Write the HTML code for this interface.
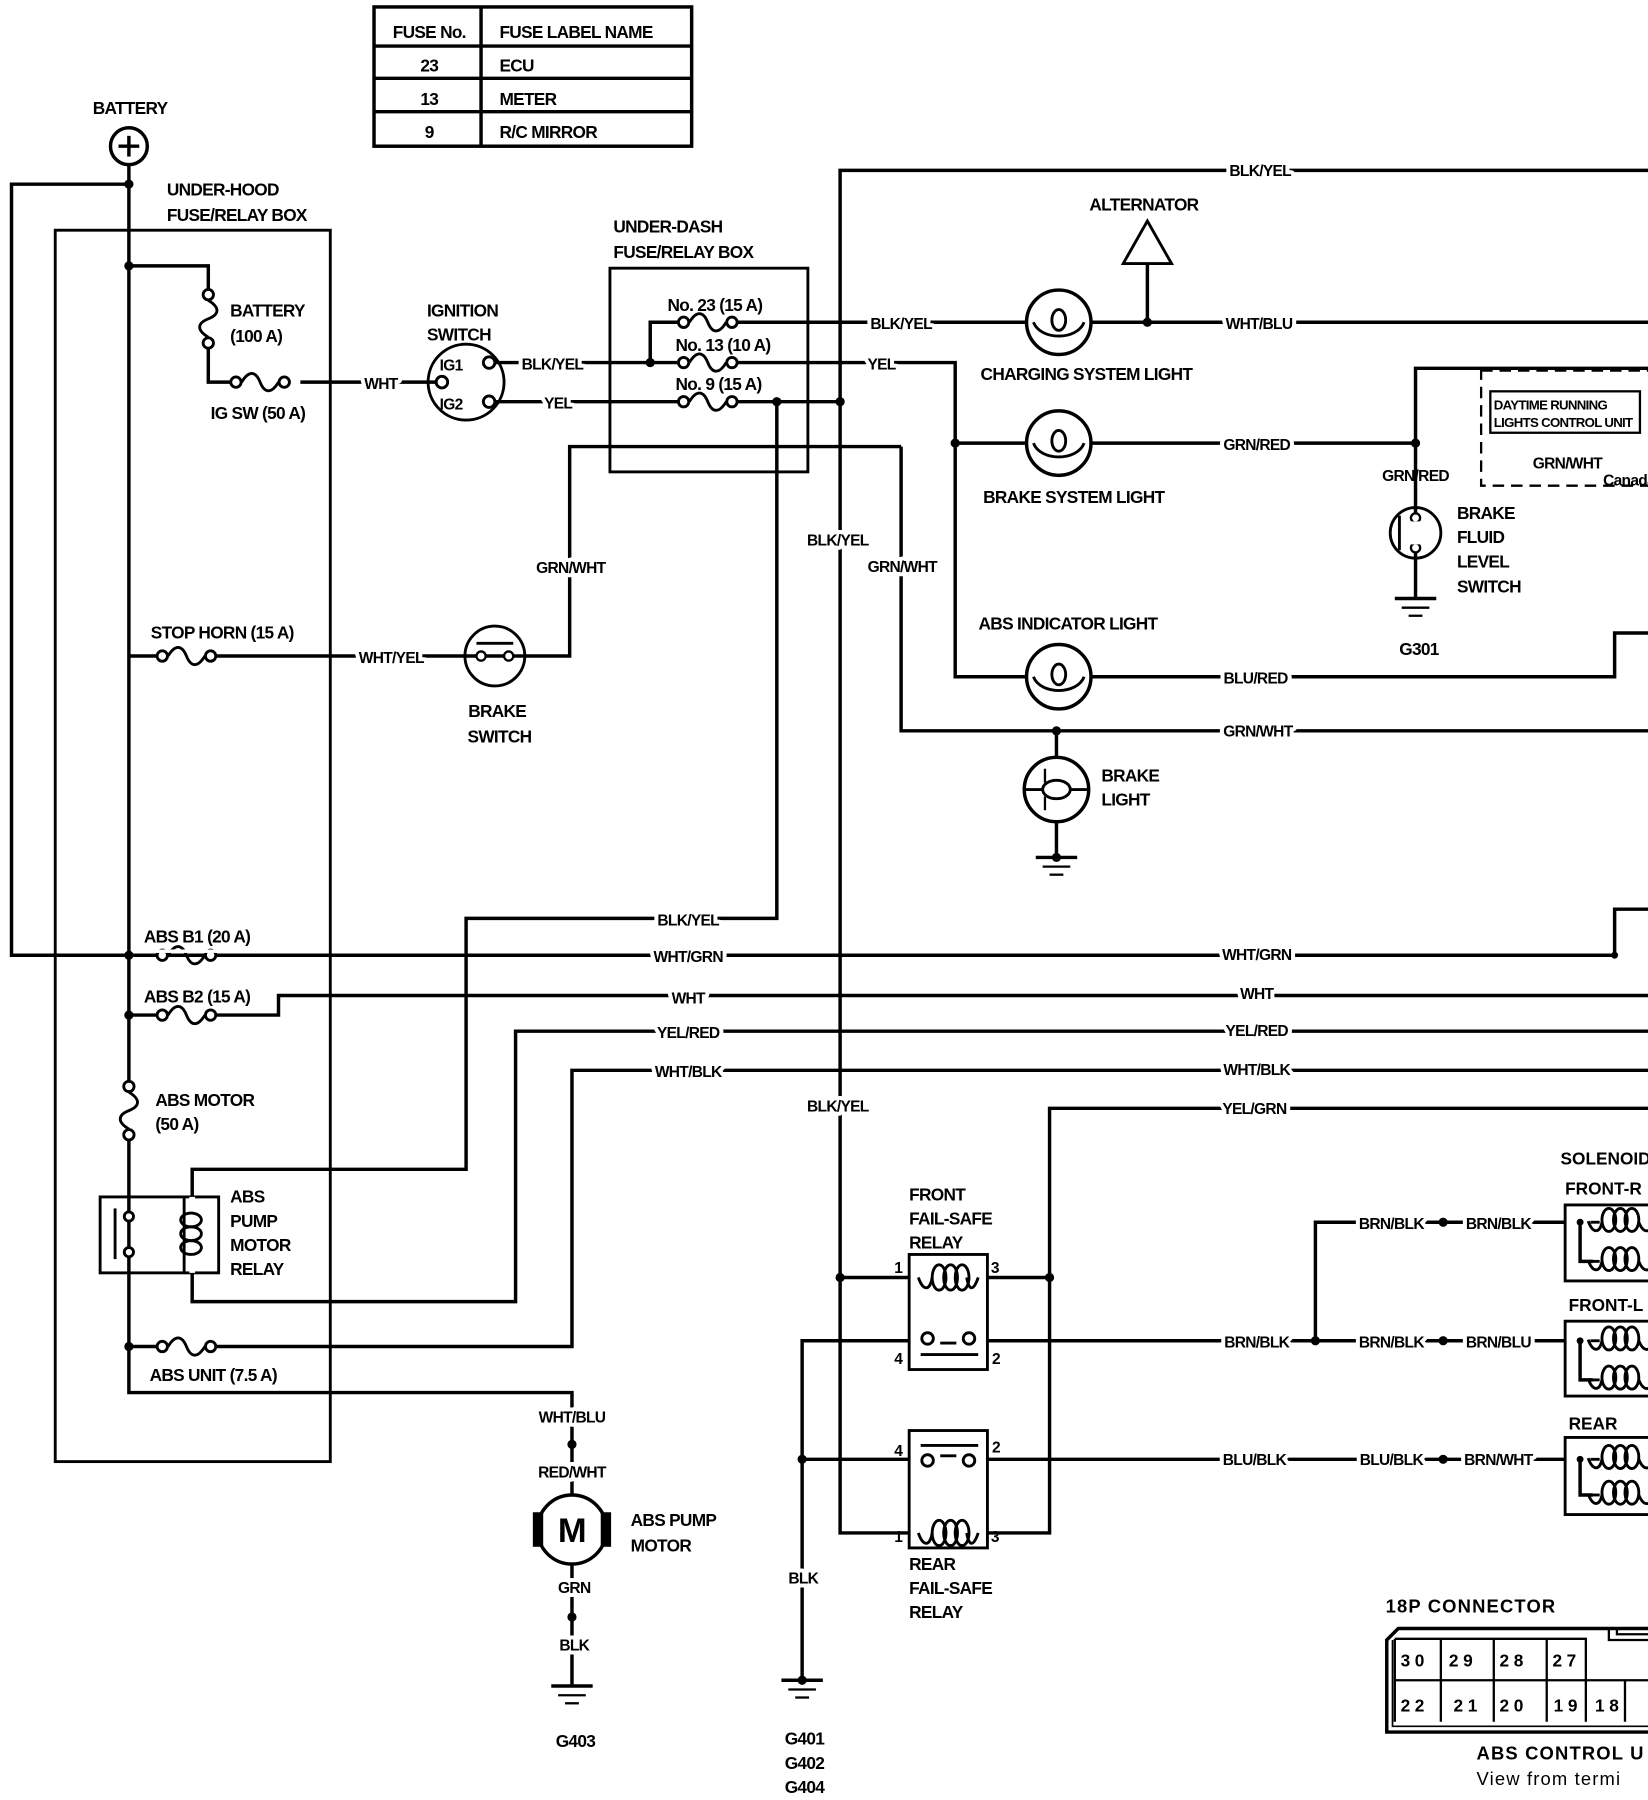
<!DOCTYPE html>
<html><head><meta charset="utf-8"><style>
html,body{margin:0;padding:0;background:#fff;}
svg{display:block;}
text{font-family:"Liberation Sans Narrow","Liberation Sans",sans-serif;font-weight:bold;font-size:15px;letter-spacing:-0.6px;fill:#000;}
.l{paint-order:stroke;stroke:#fff;stroke-width:7px;stroke-linejoin:round;}
.s{font-size:13.5px;}
.w{font-family:"Liberation Sans",sans-serif;letter-spacing:1px;}
</style></head><body>
<svg width="1648" height="1800" viewBox="0 0 1432 1564" xmlns="http://www.w3.org/2000/svg">
<defs>
<g id="fh"><circle cx="-21" cy="0" r="4.5" fill="#fff" stroke="#000" stroke-width="2.5"/><circle cx="21" cy="0" r="4.5" fill="#fff" stroke="#000" stroke-width="2.5"/><path d="M-16,0 C-10,-10 -4,-10 0,0 S10,10 16,0" fill="none" stroke="#000" stroke-width="2.5"/></g>
<g id="lamp"><circle r="28" fill="#fff" stroke="#000" stroke-width="3"/><path d="M-22,0 C-16,16 16,16 22,0" fill="none" stroke="#000" stroke-width="2.5"/><ellipse cx="0" cy="-2" rx="6" ry="9" fill="none" stroke="#000" stroke-width="2.5"/></g>
<g id="gnd"><line x1="-18" y1="0" x2="18" y2="0" stroke="#000" stroke-width="3"/><line x1="-12" y1="8" x2="12" y2="8" stroke="#000" stroke-width="2"/><line x1="-6" y1="15" x2="6" y2="15" stroke="#000" stroke-width="2"/></g>
<g id="coil"><path d="M-26,0 C-22,12 -16,12 -14,0" fill="none" stroke="#000" stroke-width="2.5"/><ellipse cx="-8" cy="0" rx="6" ry="11" fill="none" stroke="#000" stroke-width="2.5"/><ellipse cx="2" cy="0" rx="6" ry="11" fill="none" stroke="#000" stroke-width="2.5"/><ellipse cx="12" cy="0" rx="6" ry="11" fill="none" stroke="#000" stroke-width="2.5"/><path d="M16,0 C18,12 22,12 26,0" fill="none" stroke="#000" stroke-width="2.5"/></g>
<g id="sol"><path d="M12,0 h8" stroke="#000" stroke-width="2.5"/><path d="M10,-1 C14,10 20,10 22,0" fill="none" stroke="#000" stroke-width="2.5"/><ellipse cx="28" cy="-2" rx="6" ry="10" fill="none" stroke="#000" stroke-width="2.5"/><ellipse cx="38" cy="-2" rx="6" ry="10" fill="none" stroke="#000" stroke-width="2.5"/><ellipse cx="48" cy="-2" rx="6" ry="10" fill="none" stroke="#000" stroke-width="2.5"/><path d="M54,0 C58,10 64,10 68,0" fill="none" stroke="#000" stroke-width="2.5"/></g>
</defs>

<g fill="none" stroke="#000" stroke-width="3">
<rect x="325" y="6" width="276" height="121"/>
<line x1="418" y1="6" x2="418" y2="127"/>
<line x1="325" y1="40" x2="601" y2="40"/><line x1="325" y1="68" x2="601" y2="68"/><line x1="325" y1="97" x2="601" y2="97"/>
</g>
<text x="373" y="33" text-anchor="middle">FUSE No.</text><text x="434" y="33">FUSE LABEL NAME</text>
<text x="373" y="62" text-anchor="middle">23</text><text x="434" y="62">ECU</text>
<text x="373" y="91" text-anchor="middle">13</text><text x="434" y="91">METER</text>
<text x="373" y="120" text-anchor="middle">9</text><text x="434" y="120">R/C MIRROR</text>

<g fill="none" stroke="#000" stroke-width="3">
<circle cx="112" cy="127" r="16"/>
<line x1="112" y1="118" x2="112" y2="136"/><line x1="103" y1="127" x2="121" y2="127"/>
<polyline points="112,143 112,1210 497,1210 497,1305"/>
<polyline points="112,160 10,160 10,830 1403,830 1403,790 1432,790"/>
<rect x="48" y="200" width="239" height="1070" stroke-width="2.5"/>
<rect x="530" y="233" width="172" height="177" stroke-width="2.5"/>
<polyline points="112,231 181,231 181,255"/>
<polyline points="181,300 181,332 205,332"/>
<line x1="261" y1="332" x2="383" y2="332"/>
<circle cx="405" cy="332" r="33" stroke-width="2.5"/>
<line x1="430" y1="315" x2="565" y2="315"/>
<line x1="430" y1="349" x2="590" y2="349"/>
<polyline points="565,315 565,280 590,280"/>
<line x1="565" y1="315" x2="590" y2="315"/>
<line x1="640" y1="280" x2="892" y2="280"/>
<polyline points="640,315 830,315 830,588 892,588"/>
<line x1="830" y1="385" x2="892" y2="385"/>
<line x1="640" y1="349" x2="730" y2="349"/>
<polyline points="675,349 675,798 405,798 405,1016 167,1016 167,1040"/>
<polyline points="1432,148 730,148 730,1332 790,1332"/>
<line x1="730" y1="1110" x2="790" y2="1110"/>
<polyline points="783,388 783,635 1432,635"/>
<polyline points="783,388 495,388 495,570 456,570"/>
<polyline points="112,570 140,570"/><line x1="184" y1="570" x2="404" y2="570"/>
<line x1="948" y1="280" x2="1432" y2="280"/>
<polyline points="997,229 997,280"/>
<polygon points="997,192 976,229 1018,229" stroke-width="2.5"/>
<polyline points="948,385 1230,385 1230,441"/>
<polyline points="1230,385 1230,320 1432,320"/>
<line x1="1230" y1="485" x2="1230" y2="520"/>
<polyline points="948,588 1403,588 1403,550 1432,550"/>
<line x1="918" y1="635" x2="918" y2="658"/><line x1="918" y1="714" x2="918" y2="745"/>
<polyline points="112,882 140,882"/><polyline points="184,882 242,882 242,865 1432,865"/>
<polyline points="167,1106 167,1131 448,1131 448,896 1432,896"/>
<polyline points="112,1170 140,1170"/><polyline points="184,1170 497,1170 497,930 1432,930"/>
<polyline points="1432,963 912,963 912,1332 858,1332"/>
<line x1="858" y1="1110" x2="912" y2="1110"/>
<rect x="87" y="1040" width="103" height="66" stroke-width="2.5"/>
<rect x="790" y="1090" width="68" height="100" stroke-width="2.5"/>
<rect x="790" y="1243" width="68" height="102" stroke-width="2.5"/>
<polyline points="790,1165 697,1165 697,1460"/>
<line x1="697" y1="1268" x2="790" y2="1268"/>
<line x1="858" y1="1165" x2="1360" y2="1165"/>
<polyline points="1143,1165 1143,1062 1360,1062"/>
<line x1="858" y1="1268" x2="1360" y2="1268"/>
<line x1="497" y1="1355" x2="497" y2="1465"/>
<polyline points="1432,1047 1360,1047 1360,1113 1432,1113" stroke-width="2.5"/>
<polyline points="1432,1148 1360,1148 1360,1213 1432,1213" stroke-width="2.5"/>
<polyline points="1432,1249 1360,1249 1360,1316 1432,1316" stroke-width="2.5"/>
<polyline points="1373,1062 1373,1096 1384,1096"/>
<polyline points="1373,1165 1373,1199 1384,1199"/>
<polyline points="1373,1268 1373,1299 1384,1299"/>
<rect x="1287" y="322" width="160" height="100" stroke-width="2" stroke-dasharray="10,6"/>
<rect x="1295" y="340" width="130" height="36" stroke-width="2"/>
<path d="M1432,1415 H1215 L1205,1425 V1505 H1432" stroke-width="3"/>
<path d="M1210,1425 V1500 H1432" stroke-width="1.5"/>
<line x1="1212" y1="1424" x2="1212" y2="1496" stroke-width="2"/>
<path d="M1212,1424 H1378 V1496 M1212,1460 H1432 M1252,1424 V1496 M1298,1424 V1496 M1344,1424 V1496 M1412,1460 V1496" stroke-width="2"/>
<path d="M1398,1415 V1425 H1432 M1405,1415 V1420 H1432" stroke-width="2"/>
</g>

<rect x="175" y="255" width="12" height="45" fill="#fff"/>
<use href="#fh" transform="translate(181,277) rotate(90)"/>
<rect x="106" y="940" width="12" height="50" fill="#fff"/>
<use href="#fh" transform="translate(112,965) rotate(90)"/>
<use href="#fh" transform="translate(226,332)"/>
<use href="#fh" transform="translate(615,280)"/>
<use href="#fh" transform="translate(615,315)"/>
<use href="#fh" transform="translate(615,349)"/>
<use href="#fh" transform="translate(162,570)"/>
<use href="#fh" transform="translate(162,830)"/>
<use href="#fh" transform="translate(162,882)"/>
<use href="#fh" transform="translate(162,1170)"/>
<rect x="135" y="825" width="55" height="3" fill="#fff"/>

<g fill="#fff" stroke="#000" stroke-width="2.5">
<circle cx="425" cy="315" r="5"/><circle cx="425" cy="349" r="5"/><circle cx="384" cy="332" r="5"/>
</g>
<text x="382" y="322" class="s">IG1</text><text x="382" y="356" class="s">IG2</text>

<circle cx="430" cy="570" r="26" fill="#fff" stroke="#000" stroke-width="2.5"/>
<line x1="404" y1="570" x2="456" y2="570" stroke="#000" stroke-width="3"/>
<circle cx="418" cy="570" r="4" fill="#fff" stroke="#000" stroke-width="2"/><circle cx="442" cy="570" r="4" fill="#fff" stroke="#000" stroke-width="2"/>
<line x1="414" y1="559" x2="446" y2="559" stroke="#000" stroke-width="2.5"/>

<use href="#lamp" transform="translate(920,280)"/>
<use href="#lamp" transform="translate(920,385)"/>
<use href="#lamp" transform="translate(920,588)"/>
<g transform="translate(918,686)"><circle r="28" fill="#fff" stroke="#000" stroke-width="3"/><path d="M-28,0 H-12 M12,0 H28" stroke="#000" stroke-width="2.5"/><ellipse cx="0" cy="0" rx="12" ry="8" fill="none" stroke="#000" stroke-width="2.5"/><path d="M-10,-6 V-18 M-10,6 V18" stroke="#000" stroke-width="2"/></g>
<use href="#gnd" transform="translate(918,745)"/>
<circle cx="918" cy="745" r="4"/>
<circle cx="1230" cy="463" r="22" fill="#fff" stroke="#000" stroke-width="2.5"/>
<line x1="1230" y1="441" x2="1230" y2="485" stroke="#000" stroke-width="3"/>
<circle cx="1230" cy="450" r="4" fill="#fff" stroke="#000" stroke-width="2"/><circle cx="1230" cy="476" r="4" fill="#fff" stroke="#000" stroke-width="2"/>
<line x1="1216" y1="448" x2="1216" y2="478" stroke="#000" stroke-width="2.5"/>
<rect x="1226" y="453" width="8" height="20" fill="#fff"/>
<use href="#gnd" transform="translate(1230,520)"/>

<g fill="none" stroke="#000" stroke-width="2.5">
<line x1="112" y1="1040" x2="112" y2="1055"/><line x1="112" y1="1090" x2="112" y2="1106"/>
<circle cx="112" cy="1057" r="4" fill="#fff"/><circle cx="112" cy="1088" r="4" fill="#fff"/>
<line x1="100" y1="1050" x2="100" y2="1094"/>
<line x1="167" y1="1040" x2="167" y2="1106" stroke="#fff" stroke-width="5"/>
<path d="M160,1040 V1106"/>
<ellipse cx="166" cy="1060" rx="9" ry="6"/><ellipse cx="166" cy="1072" rx="9" ry="6"/><ellipse cx="166" cy="1084" rx="9" ry="6"/>
</g>

<use href="#coil" transform="translate(824,1110)"/>
<line x1="800" y1="1165" x2="856" y2="1165" stroke="#fff" stroke-width="4"/>
<g fill="#fff" stroke="#000" stroke-width="2.5"><circle cx="806" cy="1163" r="5"/><circle cx="842" cy="1163" r="5"/><circle cx="806" cy="1269" r="5"/><circle cx="842" cy="1269" r="5"/></g>
<path d="M817,1167 H831 M800,1177 H850 M800,1256 H850 M817,1265 H831" stroke="#000" stroke-width="2.5"/>
<use href="#coil" transform="translate(824,1332)"/>
<text x="777" y="1106" class="s">1</text><text x="861" y="1106" class="s">3</text>
<text x="777" y="1185" class="s">4</text><text x="862" y="1185" class="s">2</text>
<text x="777" y="1265" class="s">4</text><text x="862" y="1262" class="s">2</text>
<text x="777" y="1340" class="s">1</text><text x="861" y="1340" class="s">3</text>

<use href="#sol" transform="translate(1370,1062)"/><use href="#sol" transform="translate(1370,1096)"/>
<use href="#sol" transform="translate(1370,1165)"/><use href="#sol" transform="translate(1370,1199)"/>
<use href="#sol" transform="translate(1370,1268)"/><use href="#sol" transform="translate(1370,1299)"/>

<circle cx="497" cy="1329" r="30" fill="#fff" stroke="#000" stroke-width="3"/>
<rect x="463" y="1314" width="9" height="30"/><rect x="522" y="1314" width="9" height="30"/>
<text x="497" y="1340" text-anchor="middle" style="font-size:30px;font-family:'Liberation Sans',sans-serif">M</text>
<use href="#gnd" transform="translate(497,1465)"/>
<use href="#gnd" transform="translate(697,1460)"/>
<circle cx="697" cy="1460" r="4"/>

<g>
<circle cx="112" cy="160" r="4"/><circle cx="112" cy="231" r="4"/><circle cx="565" cy="315" r="4"/>
<circle cx="675" cy="349" r="4"/><circle cx="730" cy="349" r="4"/><circle cx="830" cy="385" r="4"/>
<circle cx="997" cy="280" r="4"/><circle cx="1230" cy="385" r="4"/><circle cx="918" cy="635" r="4"/>
<circle cx="112" cy="830" r="4"/><circle cx="112" cy="882" r="4"/><circle cx="112" cy="1170" r="4"/>
<circle cx="730" cy="1110" r="4"/><circle cx="912" cy="1110" r="4"/><circle cx="697" cy="1268" r="4"/>
<circle cx="1143" cy="1165" r="4"/><circle cx="1254" cy="1062" r="4"/><circle cx="1254" cy="1165" r="4"/><circle cx="1254" cy="1268" r="4"/>
<circle cx="1403" cy="830" r="3"/><circle cx="497" cy="1255" r="4"/><circle cx="497" cy="1405" r="4"/>
<circle cx="1373" cy="1062" r="3"/><circle cx="1373" cy="1165" r="3"/><circle cx="1373" cy="1268" r="3"/>
</g>

<g>
<text x="331" y="338" text-anchor="middle" class="l s">WHT</text>
<text x="480" y="321" text-anchor="middle" class="l s">BLK/YEL</text>
<text x="485" y="355" text-anchor="middle" class="l s">YEL</text>
<text x="783" y="286" text-anchor="middle" class="l s">BLK/YEL</text>
<text x="766" y="321" text-anchor="middle" class="l s">YEL</text>
<text x="1095" y="153" text-anchor="middle" class="l s">BLK/YEL</text>
<text x="1094" y="286" text-anchor="middle" class="l s">WHT/BLU</text>
<text x="1092" y="391" text-anchor="middle" class="l s">GRN/RED</text>
<text x="1091" y="594" text-anchor="middle" class="l s">BLU/RED</text>
<text x="1093" y="640" text-anchor="middle" class="l s">GRN/WHT</text>
<text x="496" y="498" text-anchor="middle" class="l s">GRN/WHT</text>
<text x="784" y="497" text-anchor="middle" class="l s">GRN/WHT</text>
<text x="728" y="474" text-anchor="middle" class="l s">BLK/YEL</text>
<text x="728" y="966" text-anchor="middle" class="l s">BLK/YEL</text>
<text x="340" y="576" text-anchor="middle" class="l s">WHT/YEL</text>
<text x="598" y="804" text-anchor="middle" class="l s">BLK/YEL</text>
<text x="598" y="836" text-anchor="middle" class="l s">WHT/GRN</text>
<text x="1092" y="834" text-anchor="middle" class="l s">WHT/GRN</text>
<text x="598" y="872" text-anchor="middle" class="l s">WHT</text>
<text x="1092" y="868" text-anchor="middle" class="l s">WHT</text>
<text x="598" y="902" text-anchor="middle" class="l s">YEL/RED</text>
<text x="1092" y="900" text-anchor="middle" class="l s">YEL/RED</text>
<text x="598" y="936" text-anchor="middle" class="l s">WHT/BLK</text>
<text x="1092" y="934" text-anchor="middle" class="l s">WHT/BLK</text>
<text x="1090" y="968" text-anchor="middle" class="l s">YEL/GRN</text>
<text x="1092" y="1171" text-anchor="middle" class="l s">BRN/BLK</text>
<text x="1090" y="1273" text-anchor="middle" class="l s">BLU/BLK</text>
<text x="1209" y="1068" text-anchor="middle" class="l s">BRN/BLK</text>
<text x="1302" y="1068" text-anchor="middle" class="l s">BRN/BLK</text>
<text x="1209" y="1171" text-anchor="middle" class="l s">BRN/BLK</text>
<text x="1302" y="1171" text-anchor="middle" class="l s">BRN/BLU</text>
<text x="1209" y="1273" text-anchor="middle" class="l s">BLU/BLK</text>
<text x="1302" y="1273" text-anchor="middle" class="l s">BRN/WHT</text>
<text x="497" y="1236" text-anchor="middle" class="l s">WHT/BLU</text>
<text x="497" y="1284" text-anchor="middle" class="l s">RED/WHT</text>
<text x="499" y="1384" text-anchor="middle" class="l s">GRN</text>
<text x="499" y="1434" text-anchor="middle" class="l s">BLK</text>
<text x="698" y="1376" text-anchor="middle" class="l s">BLK</text>
</g>

<text x="113" y="99" text-anchor="middle">BATTERY</text>
<text x="145" y="170">UNDER-HOOD</text><text x="145" y="192">FUSE/RELAY BOX</text>
<text x="200" y="275">BATTERY</text><text x="200" y="297">(100 A)</text>
<text x="183" y="364">IG SW (50 A)</text>
<text x="371" y="275">IGNITION</text><text x="371" y="296">SWITCH</text>
<text x="533" y="202">UNDER-DASH</text><text x="533" y="224">FUSE/RELAY BOX</text>
<text x="580" y="270">No. 23 (15 A)</text><text x="587" y="305">No. 13 (10 A)</text><text x="587" y="339">No. 9 (15 A)</text>
<text x="131" y="555">STOP HORN (15 A)</text>
<text x="432" y="623" text-anchor="middle">BRAKE</text><text x="434" y="645" text-anchor="middle">SWITCH</text>
<text x="994" y="183" text-anchor="middle">ALTERNATOR</text>
<text x="944" y="330" text-anchor="middle">CHARGING SYSTEM LIGHT</text>
<text x="933" y="437" text-anchor="middle">BRAKE SYSTEM LIGHT</text>
<text x="928" y="547" text-anchor="middle">ABS INDICATOR LIGHT</text>
<text x="957" y="679">BRAKE</text><text x="957" y="700">LIGHT</text>
<text x="1298" y="356" style="font-size:11.5px">DAYTIME RUNNING</text><text x="1298" y="371" style="font-size:11.5px">LIGHTS CONTROL UNIT</text>
<text x="1362" y="407" text-anchor="middle" class="s">GRN/WHT</text><text x="1393" y="422" class="s">Canada</text>
<text x="1230" y="418" text-anchor="middle" class="s">GRN/RED</text>
<text x="1266" y="451">BRAKE</text><text x="1266" y="472">FLUID</text><text x="1266" y="493">LEVEL</text><text x="1266" y="515">SWITCH</text>
<text x="1233" y="569" text-anchor="middle">G301</text>
<text x="125" y="819">ABS B1 (20 A)</text>
<text x="125" y="871">ABS B2 (15 A)</text>
<text x="135" y="961">ABS MOTOR</text><text x="135" y="982">(50 A)</text>
<text x="200" y="1045">ABS</text><text x="200" y="1066">PUMP</text><text x="200" y="1087">MOTOR</text><text x="200" y="1108">RELAY</text>
<text x="130" y="1200">ABS UNIT (7.5 A)</text>
<text x="548" y="1326">ABS PUMP</text><text x="548" y="1348">MOTOR</text>
<text x="500" y="1518" text-anchor="middle">G403</text>
<text x="699" y="1516" text-anchor="middle">G401</text><text x="699" y="1537" text-anchor="middle">G402</text><text x="699" y="1558" text-anchor="middle">G404</text>
<text x="790" y="1043">FRONT</text><text x="790" y="1064">FAIL-SAFE</text><text x="790" y="1085">RELAY</text>
<text x="790" y="1364">REAR</text><text x="790" y="1385">FAIL-SAFE</text><text x="790" y="1406">RELAY</text>
<text x="1356" y="1012" class="w" style="font-size:15px;letter-spacing:0">SOLENOID</text>
<text x="1360" y="1038" class="w" style="font-size:15px;letter-spacing:0">FRONT-R</text>
<text x="1363" y="1139" class="w" style="font-size:15px;letter-spacing:0">FRONT-L</text>
<text x="1363" y="1242" class="w" style="font-size:15px;letter-spacing:0">REAR</text>
<text x="1204" y="1401" class="w" style="font-size:16px">18P CONNECTOR</text>
<g style="font-size:15px">
<text x="1217" y="1448" class="w" style="letter-spacing:4px">30</text><text x="1259" y="1448" class="w" style="letter-spacing:4px">29</text><text x="1303" y="1448" class="w" style="letter-spacing:4px">28</text><text x="1349" y="1448" class="w" style="letter-spacing:4px">27</text>
<text x="1217" y="1487" class="w" style="letter-spacing:4px">22</text><text x="1263" y="1487" class="w" style="letter-spacing:4px">21</text><text x="1303" y="1487" class="w" style="letter-spacing:4px">20</text><text x="1350" y="1487" class="w" style="letter-spacing:4px">19</text><text x="1386" y="1487" class="w" style="letter-spacing:4px">18</text>
</g>
<text x="1283" y="1529" class="w" style="font-size:16px">ABS CONTROL U</text>
<text x="1283" y="1551" class="w" style="font-size:16px;font-weight:normal">View from termi</text>
</svg>
</body></html>
